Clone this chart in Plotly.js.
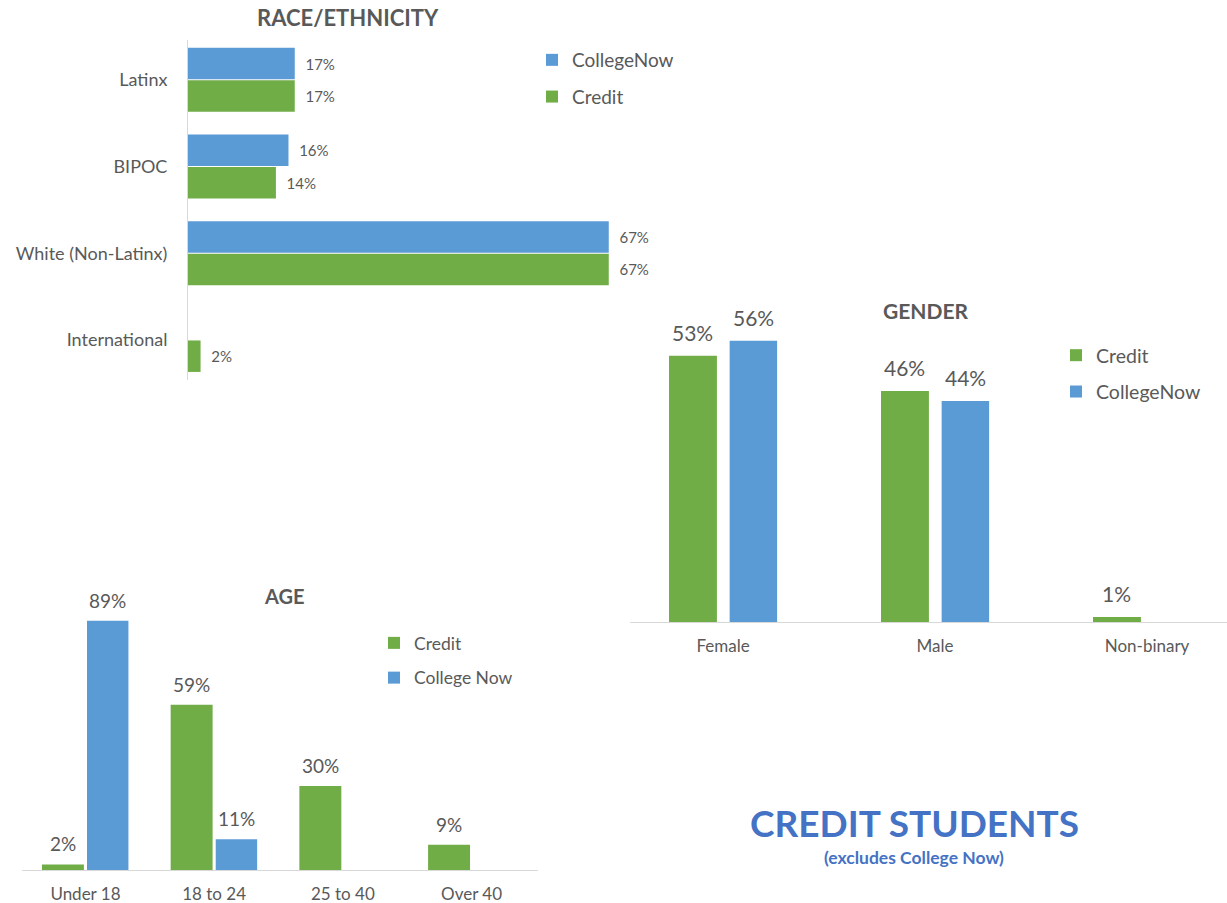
<!DOCTYPE html>
<html>
<head>
<meta charset="utf-8">
<script src="https://cdn.plot.ly/plotly-3.0.1.min.js"></script>
<style>
  html, body { margin: 0; padding: 0; background: #ffffff; }
  #chart { width: 1227px; height: 903px; }
</style>
</head>
<body>
<div id="chart"></div>
<script>
// ---- Data ----
const raceCategories = ["Latinx", "BIPOC", "White (Non-Latinx)", "International"];
const raceCollegeNow = [17, 16, 67, null];
const raceCredit = [17, 14, 67, 2];

const genderCategories = ["Female", "Male", "Non-binary"];
const genderCredit = [53, 46, 1];
const genderCollegeNow = [56, 44, null];

const ageCategories = ["Under 18", "18 to 24", "25 to 40", "Over 40"];
const ageCredit = [2, 59, 30, 9];
const ageCollegeNow = [89, 11, null, null];

// ---- Styling ----
const W = 1227, H = 903;
const BLUE = "#5B9BD5", GREEN = "#70AD47", GRAY = "#595959", LINE = "#D9D9D9";
const FONT = "Lato, 'Open Sans', sans-serif";
const px = v => v / W;
const py = v => 1 - v / H;

// bar geometry (style, in category units)
const G_W1 = 0.226, G_O1 = -0.255, G_W2 = 0.224, G_O2 = 0.031;
const A_W1 = 0.326, A_O1 = -0.338, A_W2 = 0.322, A_O2 = 0.012;

const traces = [
  // Race / ethnicity (horizontal)
  {
    type: "bar", orientation: "h", name: "CollegeNow",
    y: raceCategories, x: raceCollegeNow, xaxis: "x", yaxis: "y",
    marker: { color: BLUE }, width: 0.363, offset: -0.37,
    texttemplate: "\u00a0\u00a0%{x}%", textposition: "outside", cliponaxis: false,
    constraintext: "none", textfont: { family: FONT, size: 15, color: GRAY },
    legend: "legend", legendgroup: "r1", hoverinfo: "skip"
  },
  {
    type: "bar", orientation: "h", name: "Credit",
    y: raceCategories, x: raceCredit, xaxis: "x", yaxis: "y",
    marker: { color: GREEN }, width: 0.363, offset: 0.004,
    texttemplate: "\u00a0\u00a0%{x}%", textposition: "outside", cliponaxis: false,
    constraintext: "none", textfont: { family: FONT, size: 15, color: GRAY },
    legend: "legend", legendgroup: "r2", hoverinfo: "skip"
  },
  // Gender
  {
    type: "bar", name: "Credit",
    x: genderCategories, y: genderCredit, xaxis: "x2", yaxis: "y2",
    marker: { color: GREEN }, width: G_W1, offset: G_O1,
    legend: "legend2", legendgroup: "g1", hoverinfo: "skip"
  },
  {
    type: "bar", name: "CollegeNow",
    x: genderCategories, y: genderCollegeNow, xaxis: "x2", yaxis: "y2",
    marker: { color: BLUE }, width: G_W2, offset: G_O2,
    legend: "legend2", legendgroup: "g2", hoverinfo: "skip"
  },
  // Age
  {
    type: "bar", name: "Credit",
    x: ageCategories, y: ageCredit, xaxis: "x3", yaxis: "y3",
    marker: { color: GREEN }, width: A_W1, offset: A_O1,
    legend: "legend3", legendgroup: "a1", hoverinfo: "skip"
  },
  {
    type: "bar", name: "College Now",
    x: ageCategories, y: ageCollegeNow, xaxis: "x3", yaxis: "y3",
    marker: { color: BLUE }, width: A_W2, offset: A_O2,
    legend: "legend3", legendgroup: "a2", hoverinfo: "skip"
  }
];

// value labels above vertical bars, placed through the axes
function valueLabels(values, xref, yref, offset, width, size, shift) {
  const out = [];
  values.forEach((v, i) => {
    if (v === null || v === undefined) return;
    out.push({
      text: v + "%", x: i + offset + width / 2, y: v, xref: xref, yref: yref,
      showarrow: false, xanchor: "center", yanchor: "bottom", yshift: shift,
      font: { family: FONT, size: size, color: GRAY }
    });
  });
  return out;
}

const hiddenAxis = { showgrid: false, zeroline: false, showticklabels: false, ticks: "", showline: false, fixedrange: true };

const legendBase = {
  bgcolor: "rgba(0,0,0,0)", borderwidth: 0, traceorder: "grouped",
  xanchor: "left", yanchor: "top", itemclick: false, itemdoubleclick: false
};

const annotations = [
  { text: "<b>RACE/ETHNICITY</b>", x: px(348), y: py(17), xref: "paper", yref: "paper", showarrow: false,
    xanchor: "center", yanchor: "middle", font: { family: FONT, size: 22, color: GRAY } },
  { text: "<b>GENDER</b>", x: px(926), y: py(310), xref: "paper", yref: "paper", showarrow: false,
    xanchor: "center", yanchor: "middle", font: { family: FONT, size: 21, color: GRAY } },
  { text: "<b>AGE</b>", x: px(284), y: py(596), xref: "paper", yref: "paper", showarrow: false,
    xanchor: "center", yanchor: "middle", font: { family: FONT, size: 20, color: GRAY } },
  { text: "<b>CREDIT STUDENTS</b>", x: px(914), y: py(822), xref: "paper", yref: "paper", showarrow: false,
    xanchor: "center", yanchor: "middle", font: { family: FONT, size: 37, color: "#4472C4" } },
  { text: "<b>(excludes College Now)</b>", x: px(914), y: py(857), xref: "paper", yref: "paper", showarrow: false,
    xanchor: "center", yanchor: "middle", font: { family: FONT, size: 17.5, color: "#4472C4" } }
].concat(
  valueLabels(genderCredit, "x2", "y2", G_O1, G_W1, 21, 9),
  valueLabels(genderCollegeNow, "x2", "y2", G_O2, G_W2, 21, 9),
  valueLabels(ageCredit, "x3", "y3", A_O1, A_W1, 19, 7),
  valueLabels(ageCollegeNow, "x3", "y3", A_O2, A_W2, 19, 7)
);

const layout = {
  width: W, height: H,
  margin: { l: 0, r: 0, t: 0, b: 0 },
  paper_bgcolor: "#ffffff", plot_bgcolor: "rgba(0,0,0,0)",
  barmode: "group",
  font: { family: FONT, color: GRAY },
  // Race
  xaxis: Object.assign({}, hiddenAxis, { domain: [px(188), px(660)], range: [0, 75.16], anchor: "y" }),
  yaxis: {
    domain: [py(380), py(40)], range: [3.46, -0.46], anchor: "x",
    showgrid: false, zeroline: false, showline: true, linecolor: LINE, linewidth: 1,
    ticks: "", ticklabelstandoff: 16, tickfont: { family: FONT, size: 18, color: GRAY }, fixedrange: true
  },
  // Gender
  xaxis2: {
    domain: [px(630), 1], range: [-0.439, 2.377], anchor: "y2",
    showgrid: false, zeroline: false, showline: true, linecolor: LINE, linewidth: 1,
    ticks: "", ticklabelstandoff: 9, tickfont: { family: FONT, size: 17, color: GRAY }, fixedrange: true
  },
  yaxis2: Object.assign({}, hiddenAxis, { domain: [py(622), py(300)], range: [0, 64.1], anchor: "x2" }),
  // Age
  xaxis3: {
    domain: [px(22), px(538)], range: [-0.493, 3.516], anchor: "y3",
    showgrid: false, zeroline: false, showline: true, linecolor: LINE, linewidth: 1,
    ticks: "", ticklabelstandoff: 9, tickfont: { family: FONT, size: 17, color: GRAY }, fixedrange: true
  },
  yaxis3: Object.assign({}, hiddenAxis, { domain: [py(870), py(590)], range: [0, 100], anchor: "x3" }),
  showlegend: true,
  legend: Object.assign({}, legendBase, { x: px(532), y: py(41), tracegroupgap: 9, font: { family: FONT, size: 19, color: GRAY } }),
  legend2: Object.assign({}, legendBase, { x: px(1056), y: py(336), tracegroupgap: 8, font: { family: FONT, size: 19.5, color: GRAY } }),
  legend3: Object.assign({}, legendBase, { x: px(374), y: py(625), tracegroupgap: 9, font: { family: FONT, size: 17.5, color: GRAY } }),
  annotations: annotations
};

Plotly.newPlot("chart", traces, layout, { displayModeBar: false, staticPlot: true });
</script>
</body>
</html>
